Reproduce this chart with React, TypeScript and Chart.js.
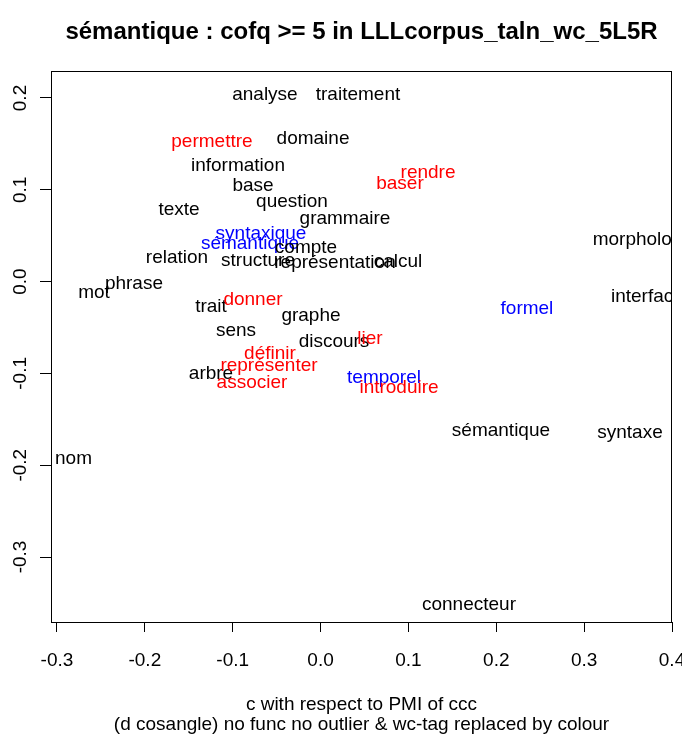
import React, { useEffect, useRef } from "react";
import { Chart, registerables } from "chart.js";

Chart.register(...registerables);

const FONT = "'Liberation Sans', Arial, Helvetica, sans-serif";

// ---- data: nouns etc. (black) ----
const blackWords = [
  "analyse", "traitement", "domaine", "information", "base", "question", "texte",
  "grammaire", "compte", "relation", "structure", "représentation", "calcul",
  "morphologie", "interface", "mot", "phrase", "trait", "graphe", "sens", "discours",
  "arbre", "sémantique", "syntaxe", "nom", "connecteur",
];
const blackX = [
  -0.0633, 0.0426, -0.0086, -0.094, -0.0769, -0.0325, -0.1611,
  0.0278, -0.0166, -0.1634, -0.0712, 0.0164, 0.0881,
  0.3692, 0.372, -0.2579, -0.2124, -0.1247, -0.0109, -0.0963, 0.0153,
  -0.1247, 0.2053, 0.3522, -0.2812, 0.1689,
];
const blackY = [
  0.2039, 0.2039, 0.1559, 0.1265, 0.1047, 0.0872, 0.0785,
  0.0687, 0.0371, 0.0262, 0.0229, 0.0207, 0.0218,
  0.0458, -0.0164, -0.012, -0.0022, -0.0273, -0.0371, -0.0534, -0.0654,
  -0.1003, -0.1625, -0.1647, -0.193, -0.3522,
];

// ---- verbs (red) ----
const redWords = [
  "permettre", "rendre", "baser", "donner", "lier", "définir", "représenter",
  "associer", "introduire",
];
const redX = [-0.1236, 0.1223, 0.0904, -0.0769, 0.0562, -0.0576, -0.0587, -0.0781, 0.0893];
const redY = [0.1527, 0.1189, 0.1069, -0.0196, -0.0622, -0.0785, -0.0916, -0.1101, -0.1156];

// ---- adjectives (blue) ----
const blueWords = ["syntaxique", "sémantique", "formel", "temporel"];
const blueX = [-0.0678, -0.0803, 0.2349, 0.0722];
const blueY = [0.0523, 0.0414, -0.0294, -0.1047];

// ---- axes ----
const xTickValues = [-0.3, -0.2, -0.1, 0.0, 0.1, 0.2, 0.3, 0.4];
const yTickValues = [-0.3, -0.2, -0.1, 0.0, 0.1, 0.2];
const xRange = [-0.3068, 0.4];
const yRange = [-0.3708, 0.2294];

const titleText = "sémantique : cofq >= 5 in LLLcorpus_taln_wc_5L5R";
const xTitleLines = [
  "c with respect to PMI of ccc",
  "(d cosangle) no func no outlier & wc-tag replaced by colour",
];

const fmt = (v: number) => (Math.abs(v) < 1e-9 ? "0.0" : Number(v).toFixed(1));

const toPoints = (xs: number[], ys: number[]) => xs.map((x, i) => ({ x, y: ys[i] }));

const wordLabels = {
  id: "wordLabels",
  afterDatasetsDraw(chart: any) {
    const { ctx, chartArea } = chart;
    ctx.save();
    ctx.beginPath();
    ctx.rect(chartArea.left, chartArea.top, chartArea.right - chartArea.left, chartArea.bottom - chartArea.top);
    ctx.clip();
    ctx.font = `19px ${FONT}`;
    ctx.textAlign = "center";
    ctx.textBaseline = "middle";
    chart.data.datasets.forEach((ds: any, i: number) => {
      const meta = chart.getDatasetMeta(i);
      ctx.fillStyle = ds.textColor;
      meta.data.forEach((pt: any, j: number) => {
        ctx.fillText(ds.words[j], pt.x, pt.y);
      });
    });
    ctx.restore();
  },
};

const plotBox = {
  id: "plotBox",
  afterDraw(chart: any) {
    const { ctx, chartArea } = chart;
    ctx.save();
    ctx.strokeStyle = "#000";
    ctx.lineWidth = 1;
    const l = Math.round(chartArea.left) + 0.5;
    const t = Math.round(chartArea.top) + 0.5;
    const r = Math.round(chartArea.right) - 0.5;
    const b = Math.round(chartArea.bottom) + 0.5;
    ctx.strokeRect(l, t, r - l, b - t);
    ctx.restore();
  },
};

export default function App() {
  const canvasRef = useRef<HTMLCanvasElement | null>(null);

  useEffect(() => {
    if (!canvasRef.current) return;
    const mkDs = (words: string[], xs: number[], ys: number[], color: string) => ({
      data: toPoints(xs, ys),
      words,
      textColor: color,
      borderColor: color,
      backgroundColor: color,
      pointRadius: 0,
      pointHoverRadius: 0,
    });
    const chart = new Chart(canvasRef.current, {
      type: "scatter",
      data: {
        datasets: [
          mkDs(blueWords, blueX, blueY, "#0000ff"),
          mkDs(blackWords, blackX, blackY, "#000000"),
          mkDs(redWords, redX, redY, "#ff0000"),
        ] as any,
      },
      options: {
        animation: false,
        responsive: false,
        devicePixelRatio: 1,
        events: [],
        layout: { padding: { left: 0, right: 10, top: 0, bottom: 0 } },
        plugins: {
          legend: { display: false },
          tooltip: { enabled: false },
          title: {
            display: true,
            text: titleText,
            fullSize: false,
            color: "#000",
            font: { family: FONT, size: 24, weight: "bold" },
            padding: { top: 17.5, bottom: 24.7 },
          },
        },
        scales: {
          x: {
            type: "linear",
            min: xRange[0],
            max: xRange[1],
            afterBuildTicks: (s: any) => {
              s.ticks = xTickValues.map((v) => ({ value: v }));
            },
            afterFit: (s: any) => {
              s.height = 114;
              s.paddingLeft = 0;
              s.paddingRight = 0;
            },
            ticks: {
              callback: (v: any) => fmt(v),
              color: "#000",
              font: { family: FONT, size: 19 },
              padding: 17,
              autoSkip: false,
              maxRotation: 0,
              minRotation: 0,
            },
            grid: { drawOnChartArea: false, tickLength: 10, color: "#000", tickColor: "#000" },
            border: { display: true, color: "#000" },
            title: {
              display: true,
              text: xTitleLines,
              color: "#000",
              font: { family: FONT, size: 19, lineHeight: "20px" },
              padding: { top: 0, bottom: 1 },
            },
          },
          y: {
            type: "linear",
            min: yRange[0],
            max: yRange[1],
            afterBuildTicks: (s: any) => {
              s.ticks = yTickValues.map((v) => ({ value: v }));
            },
            afterFit: (s: any) => {
              s.width = 51;
              s.paddingTop = 0;
              s.paddingBottom = 0;
            },
            ticks: {
              callback: (v: any) => fmt(v),
              color: "#000",
              font: { family: FONT, size: 19 },
              padding: 3,
              autoSkip: false,
              minRotation: 90,
              maxRotation: 90,
              crossAlign: "center",
            },
            grid: { drawOnChartArea: false, tickLength: 11, color: "#000", tickColor: "#000" },
            border: { display: true, color: "#000" },
          },
        },
      } as any,
      plugins: [wordLabels, plotBox],
    });
    return () => chart.destroy();
  }, []);

  return (
    <div style={{ position: "absolute", left: 0, top: 0, width: 682, height: 736, background: "#fff" }}>
      <canvas ref={canvasRef} width={682} height={736} style={{ display: "block" }} />
    </div>
  );
}
